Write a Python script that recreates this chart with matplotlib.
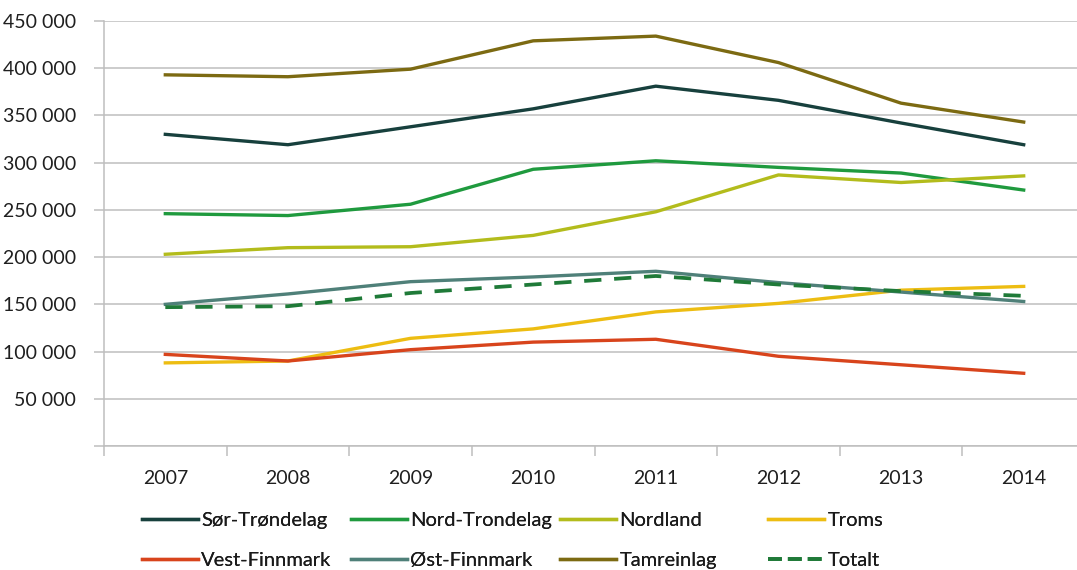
import matplotlib
matplotlib.use("Agg")
import matplotlib.pyplot as plt
from matplotlib.ticker import FuncFormatter, FixedLocator
from matplotlib.lines import Line2D

plt.rcParams['font.family'] = ['Lato', 'DejaVu Sans']

years = ["2007", "2008", "2009", "2010", "2011", "2012", "2013", "2014"]

sor_trondelag = [330000, 319000, 338000, 357000, 381000, 366000, 342000, 319000]
nord_trondelag = [246000, 244000, 256000, 293000, 302000, 295000, 289000, 271000]
nordland = [203000, 210000, 211000, 223000, 248000, 287000, 279000, 286000]
troms = [88000, 90000, 114000, 124000, 142000, 151000, 165000, 169000]
vest_finnmark = [97000, 90000, 102000, 110000, 113000, 95000, 86000, 77000]
ost_finnmark = [150000, 161000, 174000, 179000, 185000, 173000, 163000, 153000]
tamreinlag = [393000, 391000, 399000, 429000, 434000, 406000, 363000, 343000]
totalt = [147000, 148000, 162000, 171000, 180000, 171000, 164000, 159000]

y_ticks = [0, 50000, 100000, 150000, 200000, 250000, 300000, 350000, 400000, 450000]

series = [
    ("Sør-Trøndelag", sor_trondelag, "#17403D", "-"),
    ("Nord-Trondelag", nord_trondelag, "#1F9A3E", "-"),
    ("Nordland", nordland, "#B3BC1C", "-"),
    ("Troms", troms, "#EDBD12", "-"),
    ("Vest-Finnmark", vest_finnmark, "#D8441C", "-"),
    ("Øst-Finnmark", ost_finnmark, "#4F8079", "-"),
    ("Tamreinlag", tamreinlag, "#7C6A12", "-"),
    ("Totalt", totalt, "#1F7A38", "--"),
]

W, H = 1077, 570
fig = plt.figure(figsize=(W / 100, H / 100), dpi=100)
left_px, right_px, top_px, bot_px = 104, 1085, 21, 446
ax = fig.add_axes([left_px / W, 1 - bot_px / H, (right_px - left_px) / W, (bot_px - top_px) / H])

x = list(range(len(years)))
lines = {}
for name, vals, color, ls in series:
    if ls == "--":
        ln, = ax.plot(x, vals, color=color, lw=2.7, ls=(0, (4.6, 3.4)), solid_capstyle='butt', zorder=3)
    else:
        ln, = ax.plot(x, vals, color=color, lw=2.4, ls='-', zorder=3, solid_joinstyle='round')
    lines[name] = ln

ax.set_xlim(-0.5, len(years) - 0.5)
ax.set_ylim(0, 450000)
ax.yaxis.set_major_locator(FixedLocator(y_ticks))
ax.yaxis.set_major_formatter(FuncFormatter(lambda v, p: "" if v == 0 else f"{int(v):,}".replace(",", " ")))
ax.grid(axis='y', color='#BEBEBE', lw=1.1, zorder=0)

ax.set_xticks([i + 0.5 for i in range(-1, len(years))])
ax.set_xticklabels([])
ax.set_xticks(x, minor=True)
ax.set_xticklabels(years, minor=True)
ax.tick_params(axis='x', which='major', length=7, width=1.1, color='#BEBEBE', direction='out')
ax.tick_params(axis='x', which='minor', length=0, pad=17, labelsize=14, labelcolor='#1f1f1f')
ax.tick_params(axis='y', length=7, width=1.1, color='#BEBEBE', pad=13, labelsize=14, labelcolor='#1f1f1f')

for s in ['top', 'right']:
    ax.spines[s].set_visible(False)
for s in ['left', 'bottom']:
    ax.spines[s].set_color('#BEBEBE')
    ax.spines[s].set_linewidth(1.1)

# Legend entries placed in two rows, four columns
leg_pos = {
    "Sør-Trøndelag": (142, 520), "Nord-Trondelag": (351, 520), "Nordland": (560, 520), "Troms": (768, 520),
    "Vest-Finnmark": (142, 560), "Øst-Finnmark": (351, 560), "Tamreinlag": (560, 560), "Totalt": (768, 560),
}
for name, vals, color, ls in series:
    px, py = leg_pos[name]
    h = Line2D([], [], color=lines[name].get_color(), lw=lines[name].get_linewidth(),
               ls=lines[name].get_linestyle())
    lg = fig.legend([h], [name], loc='center left', bbox_to_anchor=(px / W, 1 - py / H),
                    frameon=False, fontsize=14.5, handlelength=2.8, handletextpad=0.15,
                    borderpad=0, borderaxespad=0, labelcolor='#1a1a1a')
    fig.add_artist(lg)

fig.savefig("out.png", dpi=100)
